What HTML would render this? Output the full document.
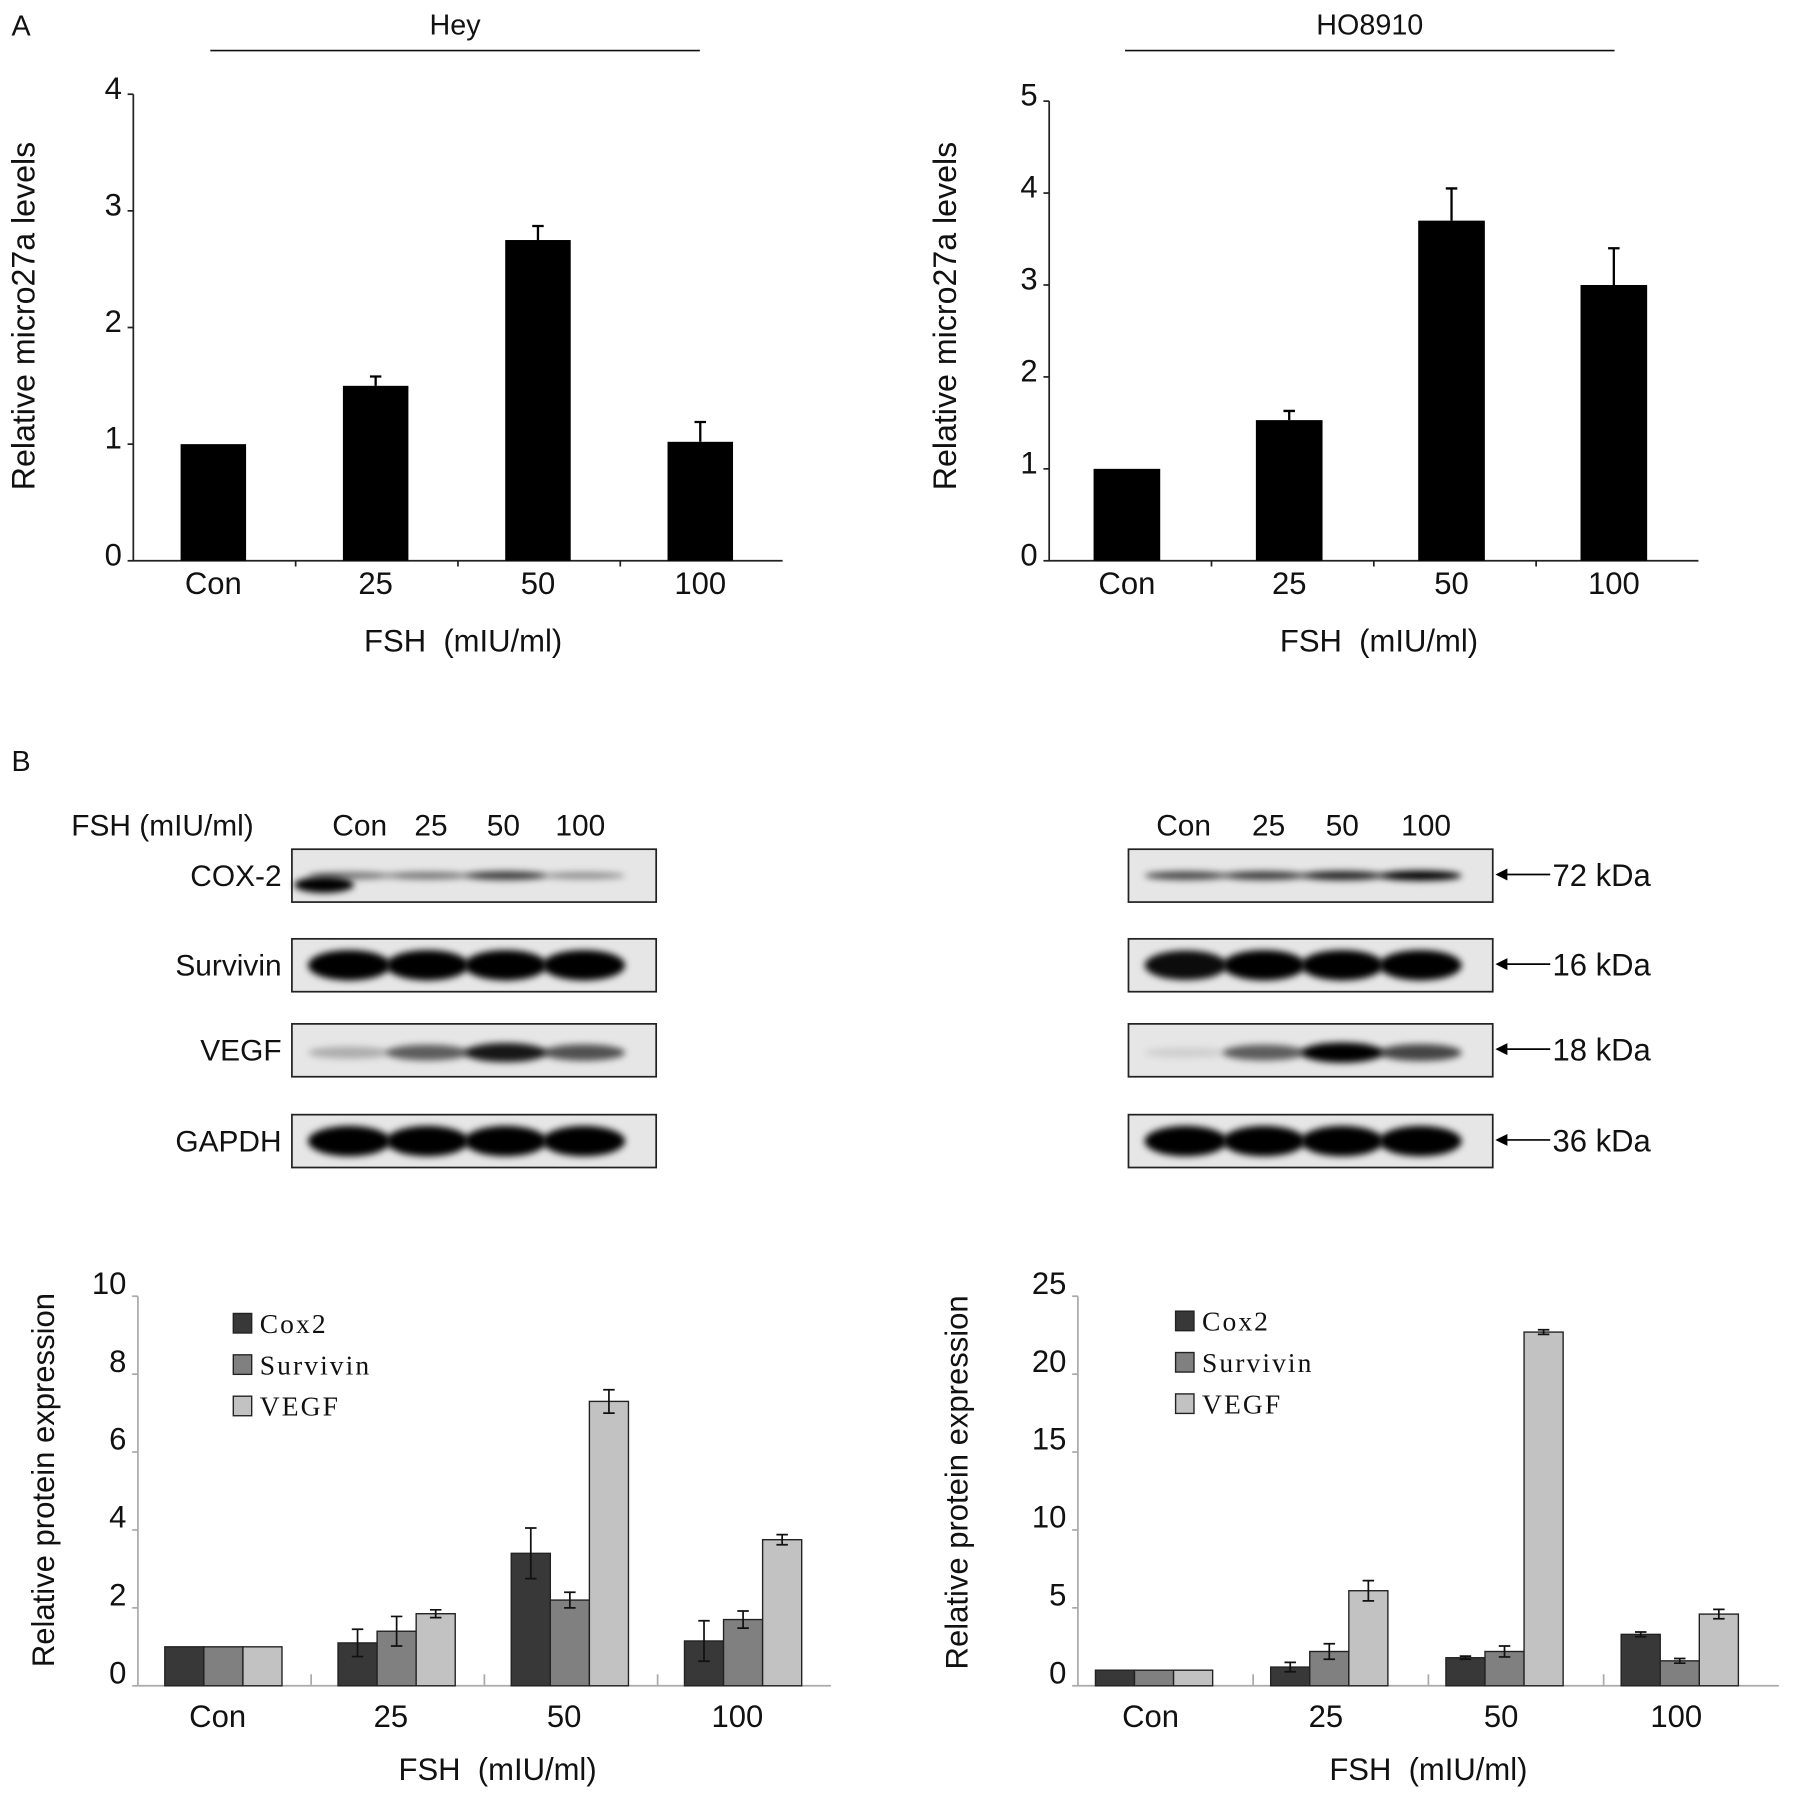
<!DOCTYPE html>
<html><head><meta charset="utf-8"><style>
html,body{margin:0;padding:0;background:#fff;}
svg{display:block;}
text{font-family:"Liberation Sans",sans-serif;fill:#111;white-space:pre;}
.serif{font-family:"Liberation Serif",serif;}
</style></head><body>
<svg id="fig" width="1795" height="1800" viewBox="0 0 1562 1566.4" xmlns="http://www.w3.org/2000/svg" xml:space="preserve">
<defs><filter id="blur" x="-20%" y="-100%" width="140%" height="300%"><feGaussianBlur stdDeviation="3"/></filter></defs>
<rect width="1562" height="1567" fill="#fff"/>
<text x="10" y="31" font-size="25">A</text>
<text x="10" y="671" font-size="25">B</text>
<g id="root"></g>
</svg>
<script>
// Panel A data
const catsA = ["Con","25","50","100"];
const heyVals = [1, 1.5, 2.75, 1.02];
const heyErr = [0, 0.08, 0.12, 0.17];
const hoVals = [1, 1.53, 3.7, 3.0];
const hoErr = [0, 0.1, 0.35, 0.4];
const heyTicks = [0,1,2,3,4];
const hoTicks = [0,1,2,3,4,5];
// Panel B data
const seriesNames = ["Cox2","Survivin","VEGF"];
const heyCox2 = [1, 1.1, 3.4, 1.15];
const heyCox2Err = [0, 0.35, 0.65, 0.52];
const heySurv = [1, 1.4, 2.2, 1.7];
const heySurvErr = [0, 0.38, 0.2, 0.22];
const heyVegf = [1, 1.85, 7.3, 3.75];
const heyVegfErr = [0, 0.1, 0.3, 0.13];
const hoCox2 = [1, 1.2, 1.8, 3.3];
const hoCox2Err = [0, 0.3, 0.1, 0.15];
const hoSurv = [1, 2.2, 2.2, 1.6];
const hoSurvErr = [0, 0.5, 0.35, 0.15];
const hoVegf = [1, 6.1, 22.7, 4.6];
const hoVegfErr = [0, 0.65, 0.15, 0.3];
const heyTicksB = [0,2,4,6,8,10];
const hoTicksB = [0,5,10,15,20,25];

const NS="http://www.w3.org/2000/svg";
const root=document.getElementById('root');
function mk(tag,attrs,parent,txt){const e=document.createElementNS(NS,tag);for(const k in attrs)e.setAttribute(k,attrs[k]);if(txt!==undefined)e.textContent=txt;(parent||root).appendChild(e);return e;}

function simpleChart(o){
  const g=mk('g',{});
  
  
  const y=v=>o.y0-(v/o.ymax)*(o.y0-o.ytop);
  const n=o.cats.length, w=(o.x1-o.x0)/n;
  const xc=i=>o.x0+w*(i+0.5);
  const ax=mk('path',{d:`M${o.x0} ${o.ytop}V${o.y0}H${o.x1}`,stroke:'#222','stroke-width':1.5,fill:'none'},g);
  
  
  o.ticks.forEach(t=>{
    mk('line',{x1:o.x0-5,x2:o.x0,y1:y(t),y2:y(t),stroke:'#222','stroke-width':1.5},g);
    const tl=mk('text',{x:o.x0-10,y:y(t)+4,'font-size':27,'text-anchor':'end'},g,String(t));
    
    
  });
  for(let i=1;i<n;i++) mk('line',{x1:o.x0+w*i,x2:o.x0+w*i,y1:o.y0,y2:o.y0+5,stroke:'#222','stroke-width':1.5},g);
  o.cats.forEach((c,i)=>{
    const bw=o.bw, bx=xc(i)-bw/2+o.off;
    const b=mk('rect',{x:bx,y:y(o.vals[i]),width:bw,height:o.y0-y(o.vals[i]),fill:'#000'},g);
    
    
    if(o.err[i]>0){const cx=bx+bw/2;const e=mk('path',{d:`M${cx} ${y(o.vals[i])}V${y(o.vals[i]+o.err[i])}M${cx-5} ${y(o.vals[i]+o.err[i])}H${cx+5}`,stroke:'#000','stroke-width':2},g);
      
      }
    const l=mk('text',{x:xc(i)+o.off,y:o.y0+29,'font-size':27,'text-anchor':'middle'},g,c);
    
    
  });
  const xt=mk('text',{x:o.xtx,y:o.y0+79,'font-size':27,'text-anchor':'middle'},g,'FSH  (mIU/ml)');
  
  
  const yt=mk('text',{transform:`translate(${o.ytx},${o.yty}) rotate(-90)`,'font-size':28,'text-anchor':'middle'},g,o.ytitle);
  
  
  const tt=mk('text',{x:o.titleX,y:30,'font-size':25,'text-anchor':'middle'},g,o.title);
  
  
  mk('line',{x1:o.titleX-213,x2:o.titleX+213,y1:44,y2:44,stroke:'#111','stroke-width':1.5},g);
}
simpleChart({name:'hey-mirna-chart',cats:catsA,vals:heyVals,err:heyErr,ticks:heyTicks,ymax:4,x0:116,x1:681,y0:488,ytop:82,bw:57,off:-1,xtx:403,ytx:30,yty:275,ytitle:'Relative micro27a levels',title:'Hey',titleX:396});
simpleChart({name:'ho8910-mirna-chart',cats:catsA,vals:hoVals,err:hoErr,ticks:hoTicks,ymax:5,x0:913,x1:1478,y0:488,ytop:88,bw:58,off:-3,xtx:1200,ytx:832,yty:275,ytitle:'Relative micro27a levels',title:'HO8910',titleX:1192});

// Western blots
const blotRows=["COX-2","Survivin","VEGF","GAPDH"];
const kda=["72 kDa","16 kDa","18 kDa","36 kDa"];
const rowY=[739,817,891,970];
const heyBand=[[0.5,0.5,0.75,0.4],[1,1,1,1],[0.25,0.6,0.9,0.65],[1,1,1,1]];
const hoBand=[[0.7,0.75,0.85,1],[0.95,1,1,1],[0.1,0.6,1,0.7],[1,1,1,1]];
function blot(x0,bands,name,labels){
  const g=mk('g',{});
  
  
  const w=317;
  blotRows.forEach((r,ri)=>{
    const y=rowY[ri];
    const box=mk('rect',{x:x0,y:y,width:w,height:46,fill:'#e6e6e6',stroke:'#222','stroke-width':1.5},g);
    
    
    const thick=(ri===1||ri===3)?12:(ri===2?8:4);
    bands[ri].forEach((v,li)=>{
      const cx=x0+50+li*68;
      const e=mk('ellipse',{cx:cx,cy:y+(ri===2?25:23),rx:36,ry:thick*(0.5+v*0.6),fill:'#000','fill-opacity':v,filter:'url(#blur)'},g);
      
      
    });
    if(labels){const t=mk('text',{x:x0-9,y:y+32,'font-size':26,'text-anchor':'end'},g,r);
      
      }
    else{mk('path',{d:`M${x0+w+4} ${y+22}H${x0+w+50}M${x0+w+4} ${y+22}l8 -4v8z`,stroke:'#000','stroke-width':1.5,fill:'#000'},g);
      const t=mk('text',{x:x0+w+52,y:y+32,'font-size':27},g,kda[ri]);
      
      }
  });
}
blot(254,heyBand,'hey-western-blot',true);
blot(982,hoBand,'ho8910-western-blot',false);
const ex=mk('ellipse',{cx:282,cy:770,rx:26,ry:7,fill:'#000',filter:'url(#blur)'});


const h1=mk('text',{x:62,y:727,'font-size':26},root,'FSH (mIU/ml)');


[[313,'Con'],[375,'25'],[438,'50'],[505,'100'],[1030,'Con'],[1104,'25'],[1168,'50'],[1241,'100']].forEach(p=>{
  const t=mk('text',{x:p[0],y:727,'font-size':26,'text-anchor':'middle'},root,p[1]);
  
  
});

function groupChart(o){
  const g=mk('g',{});
  
  
  const y=v=>o.y0-(v/o.ymax)*(o.y0-o.ytop);
  const n=catsA.length,w=(o.x1-o.x0)/n;
  mk('path',{d:`M${o.x0} ${o.ytop}V${o.y0}H${o.x1}`,stroke:'#aaa','stroke-width':1.5,fill:'none'},g);
  o.ticks.forEach(t=>{
    mk('line',{x1:o.x0-5,x2:o.x0,y1:y(t),y2:y(t),stroke:'#aaa','stroke-width':1.5},g);
    const tl=mk('text',{x:o.x0-10,y:y(t)-2,'font-size':27,'text-anchor':'end'},g,String(t));
    
    
  });
  for(let i=1;i<n;i++) mk('line',{x1:o.x0+w*i,x2:o.x0+w*i,y1:o.y0-10,y2:o.y0,stroke:'#aaa','stroke-width':1.5},g);
  const cols=['#383838','#808080','#c2c2c2'];
  const bw=34;
  catsA.forEach((c,i)=>{
    const gx=o.x0+w*(i+0.5)-51+o.off;
    o.series.forEach((s,si)=>{
      const bx=gx+si*bw, v=s[i];
      const b=mk('rect',{x:bx,y:y(v),width:bw,height:o.y0-y(v),fill:cols[si],stroke:'#222','stroke-width':1.2},g);
      
      
      const e=o.errs[si][i];
      if(e>0){const cx=bx+bw/2;const p=mk('path',{d:`M${cx} ${y(v-e)}V${y(v+e)}M${cx-5} ${y(v-e)}H${cx+5}M${cx-5} ${y(v+e)}H${cx+5}`,stroke:'#111','stroke-width':1.5},g);
        
        }
    });
    const l=mk('text',{x:gx+51+o.loff,y:o.y0+36,'font-size':27,'text-anchor':'middle'},g,c);
    
    
  });
  seriesNames.forEach((s,si)=>{
    const ly=o.legY+si*36;
    const r=mk('rect',{x:o.legX,y:ly,width:16,height:17,fill:cols[si],stroke:'#222','stroke-width':1.2},g);
    
    
    const t=mk('text',{x:o.legX+23,y:ly+17,'font-size':24,'letter-spacing':1.8,class:'serif'},g,s);
    
    
  });
  const xt=mk('text',{x:o.xtx,y:o.y0+82,'font-size':27,'text-anchor':'middle'},g,'FSH  (mIU/ml)');
  
  
  const yt=mk('text',{transform:`translate(${o.ytx},${o.yty}) rotate(-90)`,'font-size':27,'text-anchor':'middle'},g,'Relative protein expression');
  
  
}
groupChart({name:'hey-protein-chart',series:[heyCox2,heySurv,heyVegf],errs:[heyCox2Err,heySurvErr,heyVegfErr],ticks:heyTicksB,ymax:10,x0:120,x1:723,y0:1467,ytop:1128,off:-1,loff:-5,legX:203,legY:1143,xtx:433,ytx:47,yty:1288});
groupChart({name:'ho8910-protein-chart',series:[hoCox2,hoSurv,hoVegf],errs:[hoCox2Err,hoSurvErr,hoVegfErr],ticks:hoTicksB,ymax:25,x0:938,x1:1548,y0:1467,ytop:1128,off:-10,loff:-3,legX:1023,legY:1141,xtx:1243,ytx:842,yty:1290});
</script>
</body></html>
